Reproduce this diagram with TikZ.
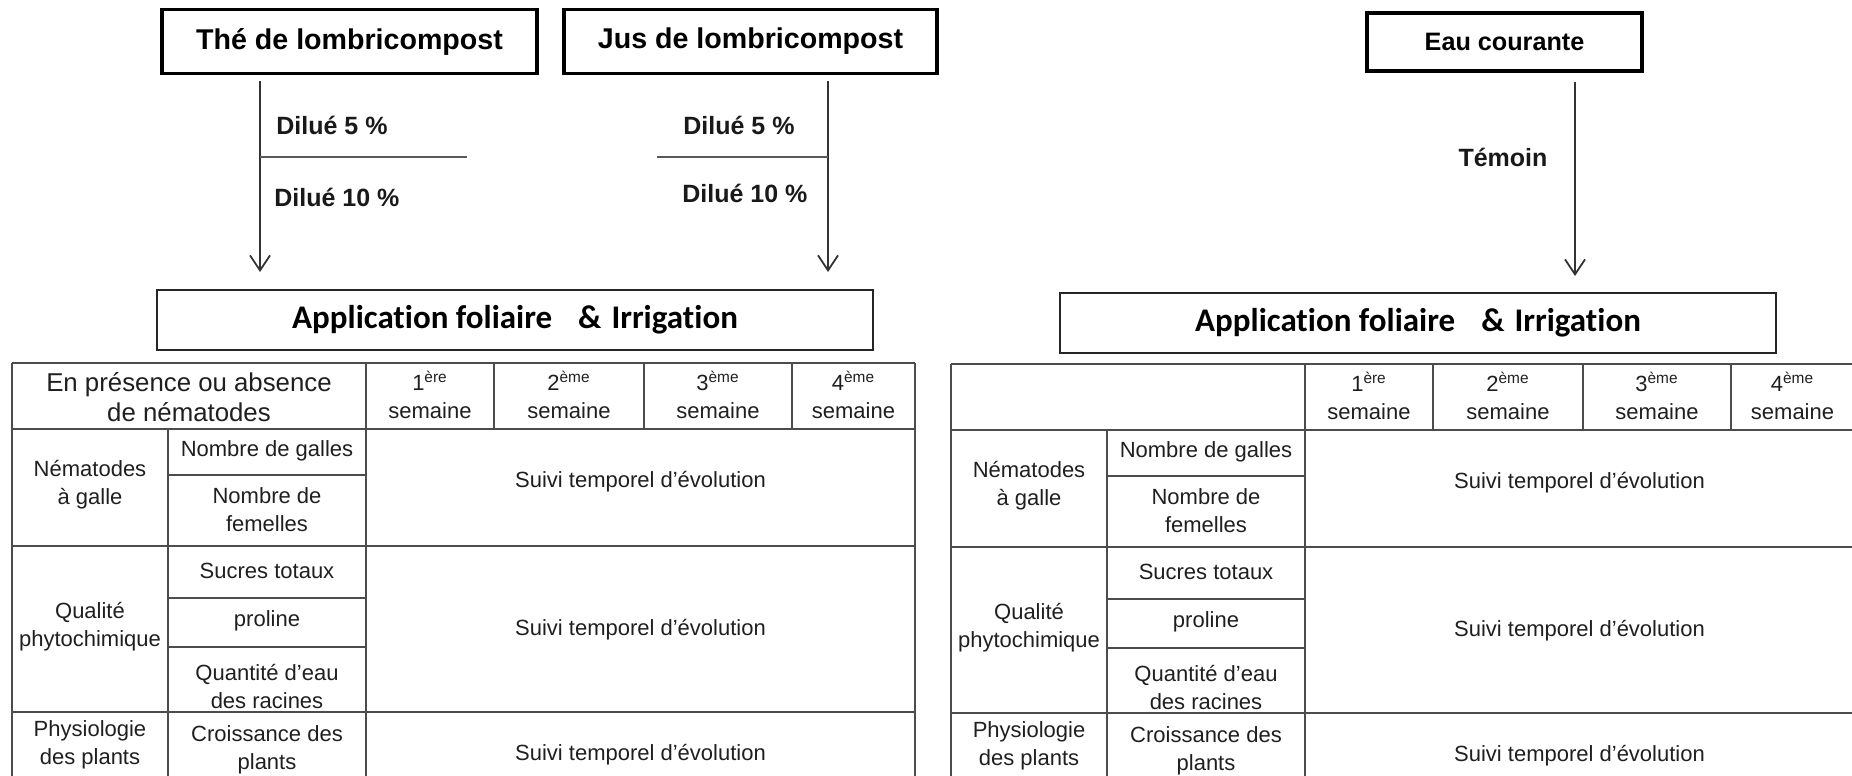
\documentclass[tikz,border=0pt]{standalone}
\usepackage{fontspec}
\setmainfont{Liberation Sans}
\newfontfamily\appfont[Ligatures=NoCommon]{Carlito}
\usetikzlibrary{arrows.meta}

% One measurement table: header text in #1
\newcommand{\suivitable}[1]{%
  % outer frame and rules
  \draw[grid] (12,363) -- (12,800);
  \draw[grid] (915,363) -- (915,800);
  \draw[grid] (12,363) -- (915,363);
  \draw[grid] (12,429) -- (915,429);
  \draw[grid] (12,546) -- (915,546);
  \draw[grid] (12,712) -- (915,712);
  \draw[grid] (168,475) -- (366,475);
  \draw[grid] (168,598) -- (366,598);
  \draw[grid] (168,647) -- (366,647);
  \draw[grid] (168,429) -- (168,800);
  \draw[grid] (366,363) -- (366,800);
  \draw[grid] (494,363) -- (494,429);
  \draw[grid] (644,363) -- (644,429);
  \draw[grid] (792,363) -- (792,429);
  % header
  \node[hcell] (head) at (189,397) {#1};
  \node[cell] (w1) at (430,395) {1\textsuperscript{ère}\\semaine};
  \node[cell] (w2) at (569,395) {2\textsuperscript{ème}\\semaine};
  \node[cell] (w3) at (718,395) {3\textsuperscript{ème}\\semaine};
  \node[cell] (w4) at (853.5,395) {4\textsuperscript{ème}\\semaine};
  % nematodes
  \node[cell] (nem) at (90,485) {Nématodes\\à galle};
  \node[cell] (gal) at (267,451) {Nombre de galles};
  \node[cell] (fem) at (267,510) {Nombre de\\femelles};
  \node[cell] (sv1) at (640.5,482) {Suivi temporel d’évolution};
  % phytochemical quality
  \node[cell] (qua) at (90,627) {Qualité\\phytochimique};
  \node[cell] (suc) at (267,571) {Sucres totaux};
  \node[cell] (pro) at (267,621) {proline};
  \node[cell] (qte) at (267,686) {Quantité d’eau\\des racines};
  \node[cell] (sv2) at (640.5,630) {Suivi temporel d’évolution};
  % plant physiology
  \node[cell] (phy) at (90,745) {Physiologie\\des plants};
  \node[cell] (cro) at (267,750) {Croissance des\\plants};
  \node[cell] (sv3) at (640.5,755) {Suivi temporel d’évolution};
}

\begin{document}
\begin{tikzpicture}[x=0.5pt,y=-0.5pt,
  srcbox/.style={draw=black, line width=1.6pt, minimum height=32pt, inner sep=0pt,
    font=\fontsize{14.3}{16}\selectfont\bfseries},
  appbox/.style={draw=black!85, line width=1pt, minimum width=358pt, minimum height=30pt,
    inner sep=0pt, font=\appfont\bfseries\fontsize{16.5}{19}\selectfont},
  lbl/.style={font=\fontsize{12.5}{14}\selectfont\bfseries, inner sep=0pt, text=black!90},
  arr/.style={draw=black!80, line width=0.9pt,
    -{Straight Barb[length=7.5pt,width=10pt,line width=0.9pt]}},
  split/.style={draw=black!65, line width=0.8pt},
  grid/.style={draw=black!70, line width=1.1pt},
  cell/.style={font=\fontsize{11}{14}\selectfont, align=center, inner sep=0pt, text=black!88},
  hcell/.style={font=\fontsize{12.9}{15}\selectfont, align=center, inner sep=0pt, text=black!88},
]
\useasboundingbox (0,0) rectangle (1852,776);

% sources
\node[srcbox, minimum width=187.5pt] (the) at (349.5,41.5) {Thé de lombricompost};
\node[srcbox, minimum width=186.5pt] (jus) at (750.5,41.5) {Jus de lombricompost};
\node[srcbox, minimum width=137.5pt, minimum height=29pt,
      font=\fontsize{12.6}{15}\selectfont\bfseries] (eau) at (1504.5,42) {Eau courante};

% application boxes
\node[appbox] (appL) at (515,320) {Application foliaire\hspace{13pt}\&\hspace{5pt}Irrigation};
\node[appbox] (appR) at (1418,323) {Application foliaire\hspace{13pt}\&\hspace{5pt}Irrigation};

% arrows with their dilution splits
\coordinate (xL) at (260,0);
\coordinate (xR) at (828,0);
\coordinate (xE) at (1575,0);
\draw[arr] ([yshift=-3pt]the.south -| xL) -- ([yshift=8.5pt]appL.north -| xL);
\draw[arr] ([yshift=-3pt]jus.south -| xR) -- ([yshift=8.5pt]appL.north -| xR);
\draw[arr] ([yshift=-4.5pt]eau.south -| xE) -- ([yshift=8pt]appR.north -| xE);

\coordinate (sL) at (467,157);
\coordinate (sR) at (657,157);
\draw[split] (sL -| xL) -- (sL);
\draw[split] (sR) -- (sR -| xR);

\node[lbl, anchor=west] (d5L) at (276,125) {Dilué 5 \%};
\node[lbl, anchor=west] (d10L) at (274,197) {Dilué 10 \%};
\node[lbl, anchor=west] (d5R) at (683,125) {Dilué 5 \%};
\node[lbl, anchor=west] (d10R) at (682,193) {Dilué 10 \%};
\node[lbl] (tem) at (1503,157) {Témoin};

% measurement tables
\begin{scope}
  \clip (0,0) rectangle (1852,776);
  \begin{scope}[name prefix=L-]
    \suivitable{En présence ou absence\\de nématodes}
  \end{scope}
  \begin{scope}[shift={(939,1)}, name prefix=R-]
    \suivitable{}
  \end{scope}
\end{scope}
\end{tikzpicture}
\end{document}
